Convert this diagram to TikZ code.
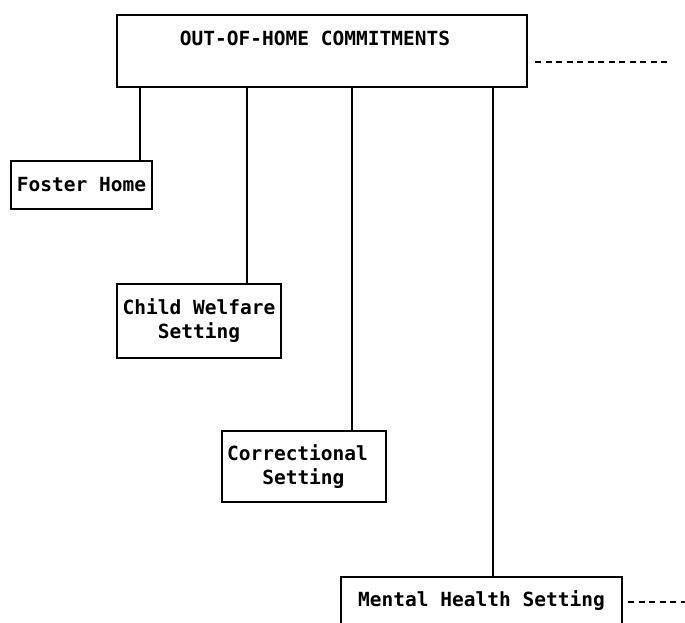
\documentclass[tikz,border=0pt]{standalone}
\usepackage{fontspec}
\newfontfamily\chartfont{DejaVu Sans Mono}
\begin{document}
\begin{tikzpicture}[x=1pt,y=-1pt,
  box/.style={draw, line width=1.6pt, inner sep=0pt,
    font=\chartfont\bfseries\fontsize{19.5}{24}\selectfont},
  link/.style={line width=1.6pt},
  dashline/.style={line width=2.4pt, dash pattern=on 6pt off 4.5pt}]
\useasboundingbox (0,0) rectangle (685,623);

% parent box
\node[box, minimum width=410pt, minimum height=72pt, align=center] (top) at (322,51)
  {OUT-OF-HOME COMMITMENTS\hspace*{14pt}\\[-6pt]\strut};

% placement boxes
\node[box, minimum width=141pt, minimum height=48pt] (fh) at (81.5,185) {Foster Home};
\node[box, minimum width=164pt, minimum height=74pt, align=center] (cw) at (199,321)
  {Child Welfare\\Setting};
\node[box, minimum width=164pt, minimum height=71pt, align=left] (cs) at (304,466.5)
  {Correctional\hspace*{13pt}\\\ \ \ Setting};
\node[box, minimum width=281pt, minimum height=47pt] (mh) at (481.5,600.5)
  {Mental Health Setting};

% connectors
\draw[link] (top.south -| 140,0) -- (fh.north -| 140,0);
\draw[link] (top.south -| 247,0) -- (cw.north -| 247,0);
\draw[link] (top.south -| 352,0) -- (cs.north -| 352,0);
\draw[link] (top.south -| 493,0) -- (mh.north -| 493,0);

% continuation lines
\coordinate (t1) at (535,62);
\coordinate (t2) at (671,62);
\draw[dashline] (t1) -- (t2);
\coordinate (m1) at (628,602);
\coordinate (m2) at (690,602);
\draw[dashline] (m1) -- (m2);
\end{tikzpicture}
\end{document}
